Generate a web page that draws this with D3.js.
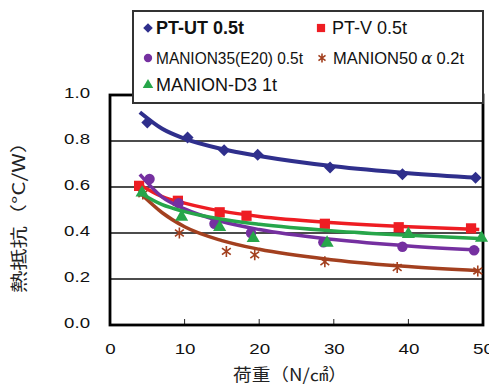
<!DOCTYPE html>
<html>
<head>
<meta charset="utf-8">
<script src="https://cdn.jsdelivr.net/npm/d3@7"></script>
<style>
  html, body { margin: 0; padding: 0; background: #fff; }
  svg { display: block; font-family: "Liberation Sans", Arial, sans-serif; }
</style>
</head>
<body>
<svg id="chart" width="489" height="385"></svg>
<script>
// ---- data ----
const seriesNames = ['PT-UT 0.5t', 'PT-V 0.5t', 'MANION35(E20) 0.5t', 'MANION50', 'MANION-D3 1t'];

// measured points (marker positions)
const ptutX = [5, 10.4, 15.3, 19.8, 29.5, 39.2, 49];
const ptutY = [0.88, 0.815, 0.76, 0.74, 0.685, 0.655, 0.64];
const ptvX  = [3.9, 9.1, 14.7, 18.3, 28.8, 38.7, 48.4];
const ptvY  = [0.605, 0.54, 0.49, 0.475, 0.44, 0.425, 0.42];
const m35X  = [5.3, 9.2, 14, 18.9, 28.6, 39.2, 48.8];
const m35Y  = [0.635, 0.53, 0.44, 0.40, 0.36, 0.34, 0.325];
const m50X  = [4.4, 9.3, 15.6, 19.4, 28.8, 38.5, 49.3];
const m50Y  = [0.57, 0.40, 0.32, 0.305, 0.275, 0.25, 0.235];
const md3X  = [4.3, 9.6, 14.7, 19.2, 29.1, 40, 49.8];
const md3Y  = [0.575, 0.47, 0.425, 0.377, 0.357, 0.395, 0.378];

// trend curves
const trendX     = [4, 7, 10, 15, 20, 30, 40, 49.5];
const ptutTrend  = [0.925, 0.853, 0.81, 0.765, 0.735, 0.69, 0.66, 0.64];
const ptvTrend   = [0.61, 0.558, 0.53, 0.495, 0.472, 0.445, 0.427, 0.415];
const m35Trend   = [0.655, 0.556, 0.505, 0.45, 0.415, 0.372, 0.344, 0.326];
const m50Trend   = [0.575, 0.488, 0.427, 0.367, 0.329, 0.283, 0.254, 0.236];
const md3Trend   = [0.575, 0.523, 0.493, 0.46, 0.438, 0.409, 0.39, 0.376];

const xTicks = [0, 10, 20, 30, 40, 50];
const yTicks = [0, 0.2, 0.4, 0.6, 0.8, 1.0];

// ---- layout ----
const svg = d3.select('#chart');
const plot = { left: 110, right: 483, top: 95, bottom: 325 };

const x = d3.scaleLinear().domain([0, 50]).range([plot.left, plot.right]);
const y = d3.scaleLinear().domain([0, 1]).range([plot.bottom, plot.top]);

// stretch a text horizontally (the original lettering is wide)
function stretch(sel, k) {
    sel.each(function() {
        const w = this.getComputedTextLength();
        d3.select(this).attr('textLength', w * k).attr('lengthAdjust', 'spacingAndGlyphs');
    });
}

const series = [
    { name: seriesNames[0], xs: ptutX, ys: ptutY, trend: ptutTrend, color: '#2f2f8c', shape: 'diamond', lw: 4 },
    { name: seriesNames[1], xs: ptvX,  ys: ptvY,  trend: ptvTrend,  color: '#ee1d23', shape: 'square',  lw: 3.5 },
    { name: seriesNames[2], xs: m35X,  ys: m35Y,  trend: m35Trend,  color: '#7530a0', shape: 'circle',  lw: 3.5 },
    { name: seriesNames[3], xs: m50X,  ys: m50Y,  trend: m50Trend,  color: '#a3401f', shape: 'star',    lw: 3.5 },
    { name: seriesNames[4], xs: md3X,  ys: md3Y,  trend: md3Trend,  color: '#27a64a', shape: 'triangle', lw: 3.5 }
];

// grid lines
svg.append('g')
    .selectAll('line')
    .data(yTicks.filter(d => d > 0 && d < 1))
    .enter()
    .append('line')
    .attr('x1', plot.left).attr('x2', plot.right)
    .attr('y1', d => y(d)).attr('y2', d => y(d))
    .attr('stroke', '#111')
    .attr('stroke-width', 1.6);

// inner tick marks on the bottom edge
svg.append('g')
    .selectAll('line')
    .data(xTicks.filter(d => d > 0 && d < 50))
    .enter()
    .append('line')
    .attr('x1', d => x(d)).attr('x2', d => x(d))
    .attr('y1', plot.bottom).attr('y2', plot.bottom - 6)
    .attr('stroke', '#222')
    .attr('stroke-width', 1);

// frame
svg.append('rect')
    .attr('x', plot.left).attr('y', plot.top)
    .attr('width', plot.right - plot.left)
    .attr('height', plot.bottom - plot.top)
    .attr('fill', 'none')
    .attr('stroke', '#000')
    .attr('stroke-width', 2.8);

// marker drawing
function drawMarker(g, shape, color, scale) {
    const k = scale || 1;
    if (shape === 'diamond') {
        g.append('path').attr('d', d3.symbol().type(d3.symbolSquare).size(72 * k * k)())
            .attr('transform', 'rotate(45)').attr('fill', color);
    } else if (shape === 'square') {
        g.append('path').attr('d', d3.symbol().type(d3.symbolSquare).size(105 * k * k)()).attr('fill', color);
    } else if (shape === 'circle') {
        g.append('path').attr('d', d3.symbol().type(d3.symbolCircle).size(85 * k * k)()).attr('fill', color);
    } else if (shape === 'triangle') {
        g.append('path').attr('d', d3.symbol().type(d3.symbolTriangle).size(75 * k * k)()).attr('fill', color);
    } else if (shape === 'star') {
        const r = 5.5 * k;
        const p = d3.path();
        p.moveTo(0, -r); p.lineTo(0, r);
        p.moveTo(-r * 0.8, -r * 0.6); p.lineTo(r * 0.8, r * 0.6);
        p.moveTo(-r * 0.8, r * 0.6); p.lineTo(r * 0.8, -r * 0.6);
        g.append('path').attr('d', p.toString()).attr('stroke', color)
            .attr('stroke-width', 1.6).attr('fill', 'none');
    }
}

// series
const line = d3.line()
    .x(d => x(d[0]))
    .y(d => y(d[1]))
    .curve(d3.curveMonotoneX);

series.forEach(s => {
    const g = svg.append('g');
    g.append('path')
        .datum(trendX.map((t, i) => [t, s.trend[i]]))
        .attr('fill', 'none')
        .attr('stroke', s.color)
        .attr('stroke-width', s.lw)
        .attr('stroke-linejoin', 'round')
        .attr('d', line);

    s.xs.forEach((v, i) => {
        const mg = g.append('g').attr('transform', `translate(${x(v)},${y(s.ys[i])})`);
        drawMarker(mg, s.shape, s.color);
    });
});

// y axis labels
const yAxis = svg.append('g')
    .attr('transform', `translate(${plot.left},0)`)
    .call(d3.axisLeft(y).tickValues(yTicks).tickFormat(d3.format('.1f')).tickSize(0).tickPadding(20));
yAxis.select('.domain').remove();
yAxis.selectAll('text')
    .attr('fill', '#111')
    .style('font-size', '14px')
    .style('font-family', '"Liberation Sans", Arial, sans-serif')
    .attr('dy', '0.2em')
    .call(stretch, 1.33);

// x axis labels
const xAxis = svg.append('g')
    .attr('transform', `translate(0,${plot.bottom})`)
    .call(d3.axisBottom(x).tickValues(xTicks).tickFormat(d3.format('d')).tickSize(0).tickPadding(18));
xAxis.select('.domain').remove();
xAxis.selectAll('text')
    .attr('fill', '#111')
    .style('font-size', '15px')
    .style('font-family', '"Liberation Sans", Arial, sans-serif')
    .call(stretch, 1.25);

// axis titles
svg.append('text')
    .attr('transform', 'translate(25,212) rotate(-90)')
    .attr('text-anchor', 'middle')
    .style('font-family', '"Noto Sans CJK JP", sans-serif')
    .style('font-size', '17px')
    .attr('fill', '#222')
    .attr('textLength', 162)
    .attr('lengthAdjust', 'spacingAndGlyphs')
    .text('熱抵抗（°C/W）');

svg.append('text')
    .attr('x', 290)
    .attr('y', 381)
    .attr('text-anchor', 'middle')
    .style('font-family', '"Noto Sans CJK JP", sans-serif')
    .style('font-size', '17px')
    .attr('fill', '#222')
    .attr('textLength', 114)
    .attr('lengthAdjust', 'spacingAndGlyphs')
    .text('荷重（N/㎠）');

// legend
const legend = svg.append('g');
legend.append('rect')
    .attr('x', 133).attr('y', 11)
    .attr('width', 350).attr('height', 92)
    .attr('fill', '#fff')
    .attr('stroke', '#333')
    .attr('stroke-width', 2);

const legendPos = [
    { mx: 148, tx: 156, ty: 34, size: 18, bold: true },
    { mx: 321, tx: 332, ty: 34, size: 18 },
    { mx: 148, tx: 156, ty: 64, size: 16, width: 147 },
    { mx: 322, tx: 333, ty: 64, size: 16.5 },
    { mx: 148, tx: 156, ty: 91, size: 18 }
];

series.forEach((s, i) => {
    const p = legendPos[i];
    const mg = legend.append('g').attr('transform', `translate(${p.mx},${p.ty - 6})`);
    drawMarker(mg, s.shape, s.color, 0.8);
    const t = legend.append('text')
        .attr('x', p.tx).attr('y', p.ty)
        .style('font-size', p.size + 'px')
        .style('font-weight', p.bold ? 'bold' : 'normal')
        .attr('fill', '#111');
    if (s.shape === 'star') {
        t.append('tspan').text(s.name);
        t.append('tspan').attr('dx', 4).style('font-style', 'italic').style('font-family', '"DejaVu Serif", serif').text('α');
        t.append('tspan').attr('dx', 4).text('0.2t');
    } else {
        t.text(s.name);
    }
    if (p.width) t.attr('textLength', p.width).attr('lengthAdjust', 'spacingAndGlyphs');
});
</script>
</body>
</html>
